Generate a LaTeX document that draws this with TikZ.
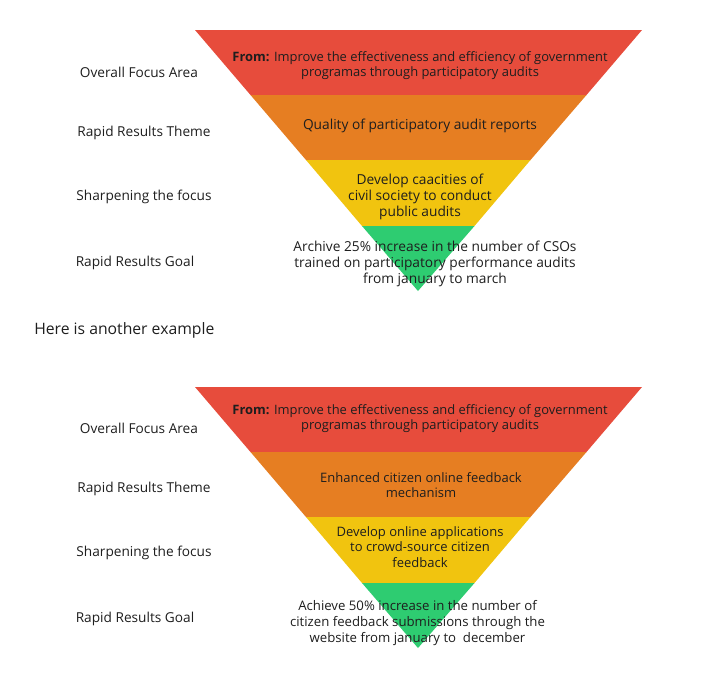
\documentclass[tikz,border=0pt]{standalone}
\usepackage{fontspec}
\setmainfont{Open Sans}
\definecolor{cred}{HTML}{E74C3C}
\definecolor{corange}{HTML}{E67E22}
\definecolor{cyellow}{HTML}{F1C40F}
\definecolor{cgreen}{HTML}{2ECC71}
\definecolor{ctext}{HTML}{1E1E1E}
\begin{document}
\begin{tikzpicture}[x=0.75pt,y=-0.75pt,
  lbl/.style={font=\fontsize{10.25}{12}\selectfont, text=ctext, inner sep=0pt},
  band/.style={font=\fontsize{9.75}{11.6}\selectfont, text=ctext, align=center, inner sep=0pt},
  bandl/.style={font=\fontsize{10.3}{12}\selectfont, text=ctext, align=center, inner sep=0pt},
  head/.style={font=\fontsize{11.8}{14}\selectfont, text=ctext, inner sep=0pt, anchor=west}]
\useasboundingbox (0,0) rectangle (725,676);
% ---------- first pyramid ----------
\fill[cred]    (195,30) -- (642,30) -- (586.5,95) -- (250.5,95) -- cycle;
\fill[corange] (250.5,95) -- (586.5,95) -- (530.5,160) -- (306,160) -- cycle;
\fill[cyellow] (306,160) -- (530.5,160) -- (474.5,226) -- (362,226) -- cycle;
\fill[cgreen]  (362,226) -- (474.5,226) -- (418,291) -- cycle;
\node[band, font=\fontsize{9.7}{11.3}\selectfont] (a1) at (420,65.5) {\textbf{From:} Improve the effectiveness and efficiency of government\\programas through participatory audits};
\node[bandl] (a2) at (420,125.5) {Quality of participatory audit reports};
\node[bandl] (a3) at (420,196.5) {Develop caacities of\\civil society to conduct\\public audits};
\node[bandl] (a4) at (435,264) {Archive 25\% increase in the number of CSOs\\trained on participatory performance audits\\from january to march};
\node[lbl] (l1) at (139,72) {Overall Focus Area};
\node[lbl] (l2) at (144,132.5) {Rapid Results Theme};
\node[lbl] (l3) at (144,196.5) {Sharpening the focus};
\node[lbl] (l4) at (135,262.5) {Rapid Results Goal};
\node[head] (h) at (34,330) {Here is another example};
% ---------- second pyramid ----------
\fill[cred]    (195,387) -- (642,387) -- (586.5,452) -- (250.5,452) -- cycle;
\fill[corange] (250.5,452) -- (586.5,452) -- (530.5,517) -- (306,517) -- cycle;
\fill[cyellow] (306,517) -- (530.5,517) -- (474.5,583) -- (362,583) -- cycle;
\fill[cgreen]  (362,583) -- (474.5,583) -- (418,648) -- cycle;
\node[band, font=\fontsize{9.7}{11.3}\selectfont] (b1) at (420,418.5) {\textbf{From:} Improve the effectiveness and efficiency of government\\programas through participatory audits};
\node[band] (b2) at (421,485) {Enhanced citizen online feedback\\mechanism};
\node[band] (b3) at (420,547) {Develop online applications\\to crowd-source citizen\\feedback};
\node[band, font=\fontsize{9.9}{12}\selectfont] (b4) at (417.5,623) {Achieve 50\% increase in the number of\\citizen feedback submissions through the\\website from january to~ december};
\node[lbl] (m1) at (139,428.5) {Overall Focus Area};
\node[lbl] (m2) at (144,488.5) {Rapid Results Theme};
\node[lbl] (m3) at (144,552.5) {Sharpening the focus};
\node[lbl] (m4) at (135,618.5) {Rapid Results Goal};
\end{tikzpicture}
\end{document}
